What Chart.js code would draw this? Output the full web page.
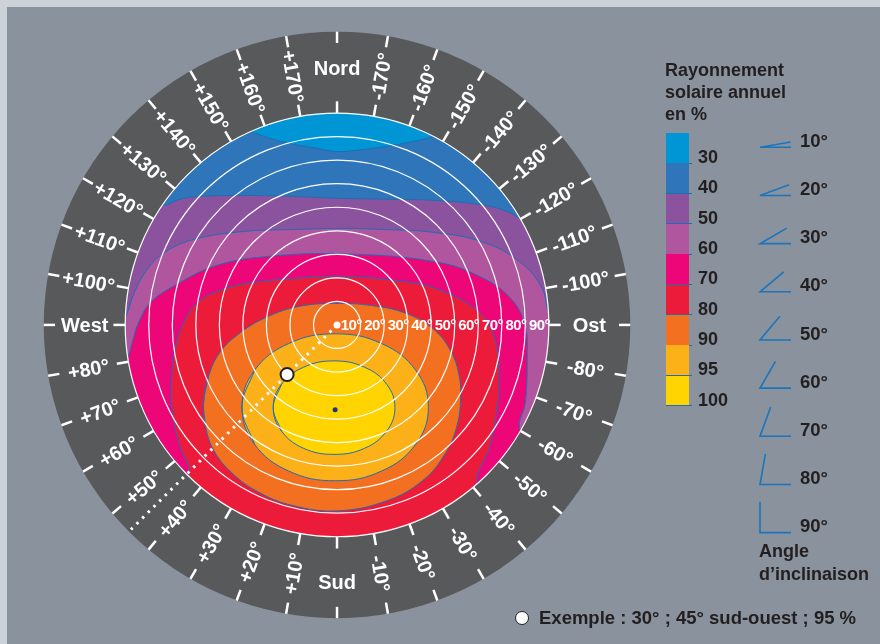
<!DOCTYPE html>
<html>
<head>
<meta charset="utf-8">
<script src="https://cdn.jsdelivr.net/npm/chart.js@4.4.1/dist/chart.umd.min.js"></script>
<style>
    body {
        margin: 0;
        width: 880px;
        height: 644px;
        overflow: hidden;
        background: #cdd2d8;
        font-family: "Liberation Sans", Arial, sans-serif;
        font-weight: bold;
        color: #231f20;
    }
    #panel { position: absolute; left: 7px; top: 7px; width: 873px; height: 637px; background: #89929d; }
    #sun { position: absolute; left: 0; top: 0; }
    .t { position: absolute; white-space: nowrap; }
</style>
</head>
<body>
<div id="panel"></div>
<canvas id="sun" width="880" height="644"></canvas>
<div id="legend"></div>
<script>
"use strict";

// tilt circles (angle d'inclinaison) and orientation labels
const TILTS = [10, 20, 30, 40, 50, 60, 70, 80, 90];
const AZIMUTHS = [0, 10, 20, 30, 40, 50, 60, 70, 80, 90, 100, 110, 120, 130, 140, 150, 160, 170, 180,
    -10, -20, -30, -40, -50, -60, -70, -80, -90, -100, -110, -120, -130, -140, -150, -160, -170];
const CARDINALS = { "0": "Sud", "90": "West", "-90": "Ost", "180": "Nord" };

// classes of annual radiation in %
const CLASSES = ["30", "40", "50", "60", "70", "80", "90", "95", "100"];
const CLASS_COLORS = ["#0096d6", "#2e75ba", "#8b529e", "#b0569f", "#ec0677", "#ed1b3a", "#f37021", "#fbb117", "#ffd400"];

// contour lines, in tilt degrees (x = east, y = north); the ends of the open ones run under the ring
const C40 = [{x:-43.8,y:86.3},{x:-35.8,y:82.5},{x:-22.9,y:78.3},{x:-9.6,y:75.8},{x:0,y:74.2},{x:10.4,y:75},
    {x:20.4,y:76.3},{x:31.3,y:78.3},{x:40,y:80.4},{x:47.9,y:83.8}];
const C50 = [{x:-81.3,y:56.3},{x:-74.2,y:51.3},{x:-66.7,y:53.8},{x:-58.3,y:55},{x:-37.5,y:55.4},{x:-18.8,y:55},
    {x:0,y:54.2},{x:20.4,y:53.8},{x:41.3,y:53.3},{x:62.1,y:51.3},{x:72.9,y:48.3},{x:78.8,y:45},{x:87.5,y:41.7}];
const C60 = [{x:-96.3,y:-6.3},{x:-89.6,y:4.2},{x:-85.8,y:14.6},{x:-80,y:24.6},{x:-72.9,y:31.3},{x:-60.4,y:36.7},
    {x:-39.6,y:40},{x:-18.8,y:40.8},{x:1.3,y:41.3},{x:20.4,y:40.8},{x:41.3,y:39.6},{x:62.1,y:35.4},
    {x:77.5,y:27.1},{x:87.1,y:15.8},{x:90,y:5},{x:96.3,y:-6.3}];
const C70 = [{x:-95.8,y:-25},{x:-89.2,y:-14.6},{x:-86.7,y:-6.3},{x:-84.2,y:1.3},{x:-79.2,y:9.6},{x:-69.2,y:16.7},
    {x:-51.3,y:25.4},{x:-30.4,y:29.2},{x:1.3,y:30.4},{x:41.3,y:27.1},{x:62.1,y:20},{x:74.6,y:10.4},
    {x:80,y:-0.8},{x:80.8,y:-12.5},{x:80,y:-33.3},{x:77.5,y:-43.8},{x:82.1,y:-54.2}];
const C80 = [{x:-69.6,y:-75},{x:-62.9,y:-63.3},{x:-66.7,y:-52.1},{x:-69.6,y:-39.6},{x:-70.4,y:-27.1},{x:-68.8,y:-10.4},
    {x:-64.6,y:2.1},{x:-58.3,y:10.4},{x:-47.9,y:15.4},{x:-37.5,y:17.9},{x:-16.7,y:20},{x:1.3,y:20.8},
    {x:22.9,y:19.2},{x:41.3,y:15.8},{x:57.9,y:7.5},{x:65,y:-0.8},{x:68.3,y:-12.5},{x:68.8,y:-22.9},
    {x:68.3,y:-33.3},{x:65,y:-51.7},{x:59.2,y:-67.5},{x:64.6,y:-77.1}];
const C90 = [{x:-56.7,y:-33.3},{x:-54.6,y:-22.1},{x:-50,y:-12.1},{x:-41.7,y:-3.8},{x:-30,y:3.3},{x:-16.3,y:7.9},
    {x:-1.3,y:9.2},{x:14.6,y:8.3},{x:29.2,y:5},{x:40.4,y:-1.3},{x:47.9,y:-10.4},{x:51.7,y:-20.8},
    {x:52.5,y:-32.1},{x:50.8,y:-43.8},{x:45.8,y:-55.4},{x:36.3,y:-66.7},{x:20.8,y:-75.4},{x:-0.4,y:-79.6},
    {x:-19.6,y:-77.1},{x:-33.8,y:-71.3},{x:-44.2,y:-63.8},{x:-52.1,y:-54.2},{x:-55.8,y:-43.8}];
const C95 = [{x:-40.4,y:-35.2},{x:-35.1,y:-19.5},{x:-20.6,y:-8},{x:-0.8,y:-3.8},{x:19,y:-8},{x:33.5,y:-19.5},
    {x:38.8,y:-35.2},{x:33.5,y:-51},{x:19,y:-62.5},{x:-0.8,y:-66.7},{x:-20.6,y:-62.5},{x:-35.1,y:-51}];
const C100 = [{x:-27.1,y:-35.4},{x:-23.6,y:-25.4},{x:-14.2,y:-18.1},{x:-1.3,y:-15.4},{x:11.7,y:-18.1},{x:21.1,y:-25.4},
    {x:24.6,y:-35.4},{x:21.1,y:-45.4},{x:11.7,y:-52.8},{x:-1.3,y:-55.4},{x:-14.2,y:-52.8},{x:-23.6,y:-45.4}];

const MAXIMUM = [{x:-0.8, y:-36.3}];
const EXAMPLE = { tilt: 30, azimuth: 45, value: 95 };

// geometry of the disc, in tilt degrees (1 degree = 2.4 px)
const RING_IN = 90;
const RING_OUT = 124.6;
const RIM = 106; // hidden closing path, under the ring
const LINE_BLUE = "#1f6db4";
const FONT = '"Liberation Sans", Arial, sans-serif';

function polar(tilt, azimuth) {
    const a = azimuth * Math.PI / 180;
    return { x: -tilt * Math.sin(a), y: -tilt * Math.cos(a) };
}

function rimPoint(deg) {
    const a = deg * Math.PI / 180;
    return { x: RIM * Math.cos(a), y: RIM * Math.sin(a) };
}

// close an open contour through the ring, going clockwise
function closeOnRim(curve) {
    const deg = (p) => Math.atan2(p.y, p.x) * 180 / Math.PI;
    const from = deg(curve[curve.length - 1]);
    let to = deg(curve[0]);
    if (to >= from) to -= 360;
    const pts = curve.slice();
    for (let a = Math.floor(from / 30) * 30; a > to + 10; a -= 30) {
        if (a > from - 10) continue;
        pts.push(rimPoint(a));
    }
    return pts;
}

function disc() {
    const pts = [];
    for (let a = 0; a < 360; a += 30) pts.push(rimPoint(a));
    return pts;
}

// repeat neighbours so the smoothed outline has no corner where it closes
function wrap(pts) {
    const n = pts.length;
    return [pts[n - 1], ...pts, pts[0], pts[1]];
}

const regions = [disc(), closeOnRim(C40), closeOnRim(C50), closeOnRim(C60), closeOnRim(C70),
    closeOnRim(C80), C90, C95, C100];

const datasets = regions.map((pts, i) => ({
    label: "class " + CLASSES[i],
    data: wrap(pts),
    showLine: true,
    fill: "shape",
    tension: 0.4,
    backgroundColor: CLASS_COLORS[i],
    borderColor: i ? LINE_BLUE : "rgba(0,0,0,0)",
    borderWidth: i ? 1 : 0,
    pointRadius: 0,
    order: 20 - i
}));

datasets.push({
    label: "sight",
    data: [{ x: 0, y: 0 }, polar(RING_OUT - 0.8, EXAMPLE.azimuth)],
    showLine: true,
    borderColor: "#ffffff",
    borderWidth: 3,
    borderDash: [2.5, 5.5],
    pointRadius: 0,
    order: 3
});
datasets.push({
    label: "centre",
    data: [{ x: 0, y: 0 }],
    pointRadius: 3.5,
    pointBackgroundColor: "#ffffff",
    pointBorderWidth: 0,
    order: 2
});
datasets.push({
    label: "maximum",
    data: MAXIMUM,
    pointRadius: 2.5,
    pointBackgroundColor: "#1d3d72",
    pointBorderWidth: 0,
    order: 2
});
datasets.push({
    label: "exemple",
    data: [polar(EXAMPLE.tilt, EXAMPLE.azimuth)],
    pointRadius: 6.5,
    pointBackgroundColor: "#ffffff",
    pointBorderColor: "#231f20",
    pointBorderWidth: 2,
    order: 1
});

// ring, tilt circles and orientation labels, drawn right before the sight line
const framePlugin = {
    id: "frame",
    beforeDatasetDraw(chart, args) {
        if (chart.data.datasets[args.index].label !== "sight") return;
        const { ctx, scales: { x, y } } = chart;
        const cx = x.getPixelForValue(0);
        const cy = y.getPixelForValue(0);
        const px = (t) => x.getPixelForValue(t) - cx;

        ctx.save();
        ctx.beginPath();
        ctx.arc(cx, cy, px(RING_OUT), 0, Math.PI * 2);
        ctx.arc(cx, cy, px(RING_IN), 0, Math.PI * 2, true);
        ctx.fillStyle = "#58595b";
        ctx.fill("evenodd");

        ctx.strokeStyle = "#ffffff";
        ctx.lineWidth = 1.2;
        TILTS.forEach((t) => {
            ctx.beginPath();
            ctx.arc(cx, cy, px(t), 0, Math.PI * 2);
            ctx.stroke();
        });

        ctx.lineWidth = 2.5;
        ctx.fillStyle = "#ffffff";
        ctx.font = "bold 20px " + FONT;
        ctx.textAlign = "center";
        ctx.textBaseline = "alphabetic";
        AZIMUTHS.forEach((az) => {
            const a = az * Math.PI / 180;
            const ux = -Math.sin(a);
            const uy = Math.cos(a);
            [[RING_IN, RING_IN + 5], [RING_OUT - 4.8, RING_OUT]].forEach(([r0, r1]) => {
                ctx.beginPath();
                ctx.moveTo(cx + ux * px(r0), cy + uy * px(r0));
                ctx.lineTo(cx + ux * px(r1), cy + uy * px(r1));
                ctx.stroke();
            });
            const name = CARDINALS[String(az)];
            const r = px(az === 0 || az === 180 ? 109.2 : 107.2);
            ctx.save();
            ctx.translate(cx + ux * r, cy + uy * r);
            if (!name) {
                ctx.rotate(az > 0 ? Math.atan2(-uy, -ux) : Math.atan2(uy, ux));
            }
            ctx.fillText(name || (az > 0 ? "+" : "") + az + "°", 0, 7.2);
            ctx.restore();
        });
        ctx.restore();
    },
    afterDatasetsDraw(chart) {
        const { ctx, scales: { x, y } } = chart;
        const cy = y.getPixelForValue(0);
        ctx.save();
        ctx.fillStyle = "#ffffff";
        ctx.font = "bold 15px " + FONT;
        if ("letterSpacing" in ctx) ctx.letterSpacing = "-0.6px";
        ctx.textAlign = "right";
        ctx.textBaseline = "alphabetic";
        TILTS.forEach((t) => {
            ctx.fillText(t + "°", x.getPixelForValue(t) + 1, cy + 5.4);
        });
        ctx.restore();
    }
};

new Chart(document.getElementById("sun"), {
    type: "scatter",
    data: { datasets },
    options: {
        responsive: false,
        maintainAspectRatio: false,
        animation: false,
        devicePixelRatio: 1,
        events: [],
        layout: { padding: 0 },
        plugins: { legend: { display: false }, tooltip: { enabled: false } },
        scales: {
            x: { type: "linear", min: -335 / 2.4, max: 545 / 2.4, display: false, bounds: "data" },
            y: { type: "linear", min: -319 / 2.4, max: 325 / 2.4, display: false, bounds: "data" }
        }
    },
    plugins: [framePlugin]
});

// legend (HTML)
const legend = document.getElementById("legend");

function addText(text, left, top, size) {
    const el = document.createElement("div");
    el.className = "t";
    el.style.left = left + "px";
    el.style.top = top + "px";
    el.style.fontSize = size + "px";
    el.style.lineHeight = "20px";
    el.innerHTML = text;
    legend.appendChild(el);
    return el;
}

function addBox(left, top, width, height, color) {
    const el = document.createElement("div");
    el.style.cssText = `position:absolute;left:${left}px;top:${top}px;width:${width}px;height:${height}px;background:${color}`;
    legend.appendChild(el);
    return el;
}

const title = addText("Rayonnement<br>solaire annuel<br>en %", 665, 59, 18);
title.style.lineHeight = "22px";

const BAR_TOP = 133;
const BAR_H = 30.33;
CLASSES.forEach((label, i) => {
    const top = BAR_TOP + i * BAR_H;
    addBox(666, top, 23, BAR_H + 0.3, CLASS_COLORS[i]);
    addBox(666, top + BAR_H - 0.5, 26, 1, LINE_BLUE);
    addText(label, 698, top + BAR_H - 16.2, 18);
});

const ICON_TOP = 147.3;
const ICON_STEP = 48.17;
const svgNS = "http://www.w3.org/2000/svg";
const svg = document.createElementNS(svgNS, "svg");
svg.setAttribute("width", "880");
svg.setAttribute("height", "644");
svg.style.cssText = "position:absolute;left:0;top:0";
TILTS.forEach((t, i) => {
    const b = ICON_TOP + i * ICON_STEP;
    const a = t * Math.PI / 180;
    const path = document.createElementNS(svgNS, "path");
    path.setAttribute("d", `M${760 + 31 * Math.cos(a)} ${b - 31 * Math.sin(a)} L760 ${b} L791 ${b}`);
    path.setAttribute("fill", "none");
    path.setAttribute("stroke", "#1b75bc");
    path.setAttribute("stroke-width", "1.6");
    svg.appendChild(path);
    addText(t + "°", 800, b - 16.4, 18.5);
});
legend.appendChild(svg);

addText("Angle", 759, 540.8, 18);
addText("d’inclinaison", 759, 563.8, 18);

const dot = addBox(515, 611, 14, 14, "#ffffff");
dot.style.borderRadius = "50%";
dot.style.border = "1.5px solid #231f20";
dot.style.boxSizing = "border-box";
addText(`Exemple : ${EXAMPLE.tilt}° ; ${EXAMPLE.azimuth}° sud-ouest ; ${EXAMPLE.value} %`, 539, 607.6, 18.5);
</script>
</body>
</html>
